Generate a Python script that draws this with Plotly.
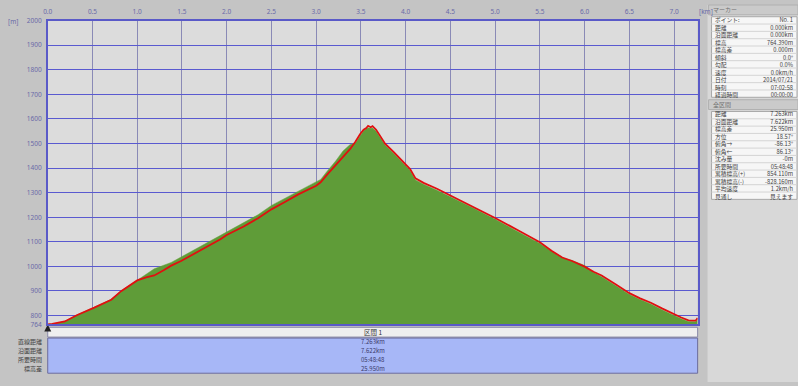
import plotly.graph_objects as go

# ---------------- data ----------------
dist_km = [0, 0.05, 0.19, 0.33, 0.52, 0.71, 0.82, 1.0, 1.1, 1.19, 1.3, 1.38, 1.49, 1.6, 1.71,
           1.82, 1.93, 2.0, 2.19, 2.35, 2.5, 2.65, 2.8, 3.0, 3.05, 3.12, 3.22, 3.3, 3.38, 3.44,
           3.49, 3.53, 3.56, 3.58, 3.61, 3.63, 3.67, 3.72, 3.77, 3.87, 3.97, 4.05, 4.11, 4.2,
           4.35, 4.5, 4.75, 5.0, 5.25, 5.5, 5.63, 5.75, 5.86, 6.0, 6.1, 6.19, 6.35, 6.5, 6.62,
           6.74, 6.87, 7.0, 7.08, 7.16, 7.24, 7.263]
track_elev = [764, 766, 776, 802, 832, 864, 899, 943, 955, 963, 985, 1003, 1022, 1044, 1064,
              1086, 1110, 1128, 1162, 1196, 1232, 1262, 1293, 1328, 1342, 1372, 1414, 1446, 1478, 1508,
              1538, 1556, 1563, 1572, 1566, 1571, 1556, 1528, 1499, 1464, 1428, 1396, 1358, 1340,
              1316, 1289, 1244, 1197, 1148, 1098, 1064, 1036, 1022, 999, 978, 963, 926, 891, 870,
              852, 828, 804, 792, 780, 779, 790]
ground_elev = [764, 765, 776, 803, 834, 866, 900, 946, 968, 990, 1004, 1016, 1038, 1060, 1082,
               1102, 1126, 1140, 1176, 1210, 1248, 1276, 1306, 1342, 1354, 1386, 1430, 1470, 1496, 1502,
               1530, 1552, 1560, 1564, 1562, 1563, 1550, 1524, 1494, 1458, 1422, 1390, 1352, 1334,
               1310, 1284, 1239, 1192, 1143, 1093, 1062, 1034, 1024, 1004, 976, 958, 921, 886, 865,
               847, 823, 799, 787, 776, 775, 784]

x_ticks = [0.0, 0.5, 1.0, 1.5, 2.0, 2.5, 3.0, 3.5, 4.0, 4.5, 5.0, 5.5, 6.0, 6.5, 7.0]
y_ticks = [764, 800, 900, 1000, 1100, 1200, 1300, 1400, 1500, 1600, 1700, 1800, 1900, 2000]

section_title = "区間 1"
section_labels = ["直線距離", "沿面距離", "所要時間", "標高差"]
section_values = ["7.263km", "7.622km", "05:48:48", "25.950m"]

marker_title = "マーカー"
marker_labels = ["ポイント:", "距離", "沿面距離", "標高", "標高差", "傾斜", "勾配", "速度", "日付", "時刻", "経過時間"]
marker_values = ["No. 1", "0.000km", "0.000km", "764.390m", "0.000m", "0.0°", "0.0%", "0.0km/h",
                 "2014/07/21", "07:02:58", "00:00:00"]

total_title = "全区間"
total_labels = ["距離", "沿面距離", "標高差", "方位", "俯角→", "俯角←", "沈み量", "所要時間",
                "累積標高(+)", "累積標高(-)", "平均速度", "見通し"]
total_values = ["7.263km", "7.622km", "25.950m", "18.57°", "-86.13°", "86.13°", "-0m", "05:48:48",
                "854.110m", "-828.160m", "1.2km/h", "見えます"]

# ---------------- layout helpers ----------------
W, H = 798, 386
def px(x):
    return x / W
def py(y):
    return 1 - y / H

FONT = "Noto Sans CJK JP"
TICKFONT = "Noto Sans"
fig = go.Figure()

fig.add_trace(go.Scatter(x=dist_km, y=ground_elev, mode="lines", fill="tozeroy",
                         fillcolor="#5f9c38", line=dict(color="#6aa43e", width=0.5),
                         hoverinfo="skip", showlegend=False))
fig.add_trace(go.Scatter(x=dist_km, y=track_elev, mode="lines",
                         line=dict(color="#e01010", width=1.8), showlegend=False))
fig.add_trace(go.Scatter(x=[dist_km[0]], y=[track_elev[0]], mode="markers", cliponaxis=False,
                         marker=dict(symbol="arrow-up", size=7, color="#202020"), showlegend=False))

shapes = []
annotations = []

def note(x, y, text, size=6, color="#404040", xanchor="center", align="center", family=FONT):
    annotations.append(dict(x=px(x), y=py(y), xref="paper", yref="paper", text=text,
                            xanchor=xanchor, yanchor="middle", align=align, borderpad=0,
                            showarrow=False, font=dict(family=family, size=size, color=color)))

# bottom section table
shapes.append(dict(type="rect", xref="paper", yref="paper", x0=px(43), x1=px(697), y0=py(340), y1=py(330),
                   fillcolor="#efefef", line=dict(color="#8a8aa8", width=1), layer="below"))
shapes.append(dict(type="rect", xref="paper", yref="paper", x0=px(43), x1=px(697), y0=py(377), y1=py(341),
                   fillcolor="#a7b7f7", line=dict(color="#6c6c9c", width=1), layer="below"))
note(370, 335, section_title, size=6.5, color="#303030")
for i, (lab, val) in enumerate(zip(section_labels, section_values)):
    yy = 345 + i * 9
    note(38, yy, lab, xanchor="right", align="right")
    note(370, yy, val, color="#3a3a6a")

# right info panel
shapes.append(dict(type="rect", xref="paper", yref="paper", x0=px(707), x1=px(798), y0=py(386), y1=py(0),
                   fillcolor="#d8d8d8", line=dict(width=0), layer="below"))

ROW_H = 7.5
ROW_FONT = ROW_H / 1.3
def panel_block(title, labels, values, top):
    shapes.append(dict(type="rect", xref="paper", yref="paper", x0=px(708), x1=px(798), y0=py(top + 10), y1=py(top),
                       fillcolor="#cacaca", line=dict(color="#b0b0b0", width=1), layer="below"))
    note(711, top + 4.5, title, size=6, color="#707070", xanchor="left", align="left")
    y0 = top + 12
    n = len(labels)
    shapes.append(dict(type="rect", xref="paper", yref="paper", x0=px(711), x1=px(797),
                       y0=py(y0 + ROW_H * n), y1=py(y0),
                       fillcolor="#f6f6f6", line=dict(color="#a8a8a8", width=1), layer="below"))
    for i in range(1, n):
        shapes.append(dict(type="line", xref="paper", yref="paper", x0=px(711), x1=px(797),
                           y0=py(y0 + ROW_H * i), y1=py(y0 + ROW_H * i),
                           line=dict(color="#d4d4d4", width=1), layer="below"))
    yc = y0 + ROW_H * n / 2
    note(713, yc, "<br>".join(labels), size=ROW_FONT, xanchor="left", align="left")
    note(795, yc, "<br>".join(values), size=ROW_FONT, xanchor="right", align="right")

panel_block(marker_title, marker_labels, marker_values, 0)
panel_block(total_title, total_labels, total_values, 97)

# unit labels
note(2, 17, "[m]", size=6.5, color="#6a6aa8", xanchor="left", align="left", family=TICKFONT)
note(697, 7, "[km]", size=6.5, color="#6a6aa8", xanchor="left", align="left", family=TICKFONT)

fig.update_layout(
    width=W, height=H,
    margin=dict(l=0, r=0, t=0, b=0),
    paper_bgcolor="#c4c4c4",
    plot_bgcolor="#dcdcdc",
    showlegend=False,
    shapes=shapes,
    annotations=annotations,
    xaxis=dict(domain=[px(43), px(697)], range=[0, 7.263], side="top",
               tickvals=x_ticks, ticktext=[f"{v:.1f}" for v in x_ticks],
               showgrid=True, gridcolor="#8a8ab6", gridwidth=1, zeroline=False,
               showline=True, linecolor="#5a5ac8", linewidth=1.5, mirror=True, ticks="",
               ticklabelstandoff=2,
               tickfont=dict(family=TICKFONT, size=6.5, color="#6a6aa8")),
    yaxis=dict(domain=[py(327), py(16)], range=[764, 2000],
               tickvals=y_ticks, ticktext=[str(v) for v in y_ticks],
               showgrid=True, gridcolor="#5a5ad0", gridwidth=1, zeroline=False,
               showline=True, linecolor="#5a5ac8", linewidth=1.5, mirror=True, ticks="",
               ticklabelstandoff=3,
               tickfont=dict(family=TICKFONT, size=6.5, color="#6a6aa8")),
)

fig.write_html("out.html")
